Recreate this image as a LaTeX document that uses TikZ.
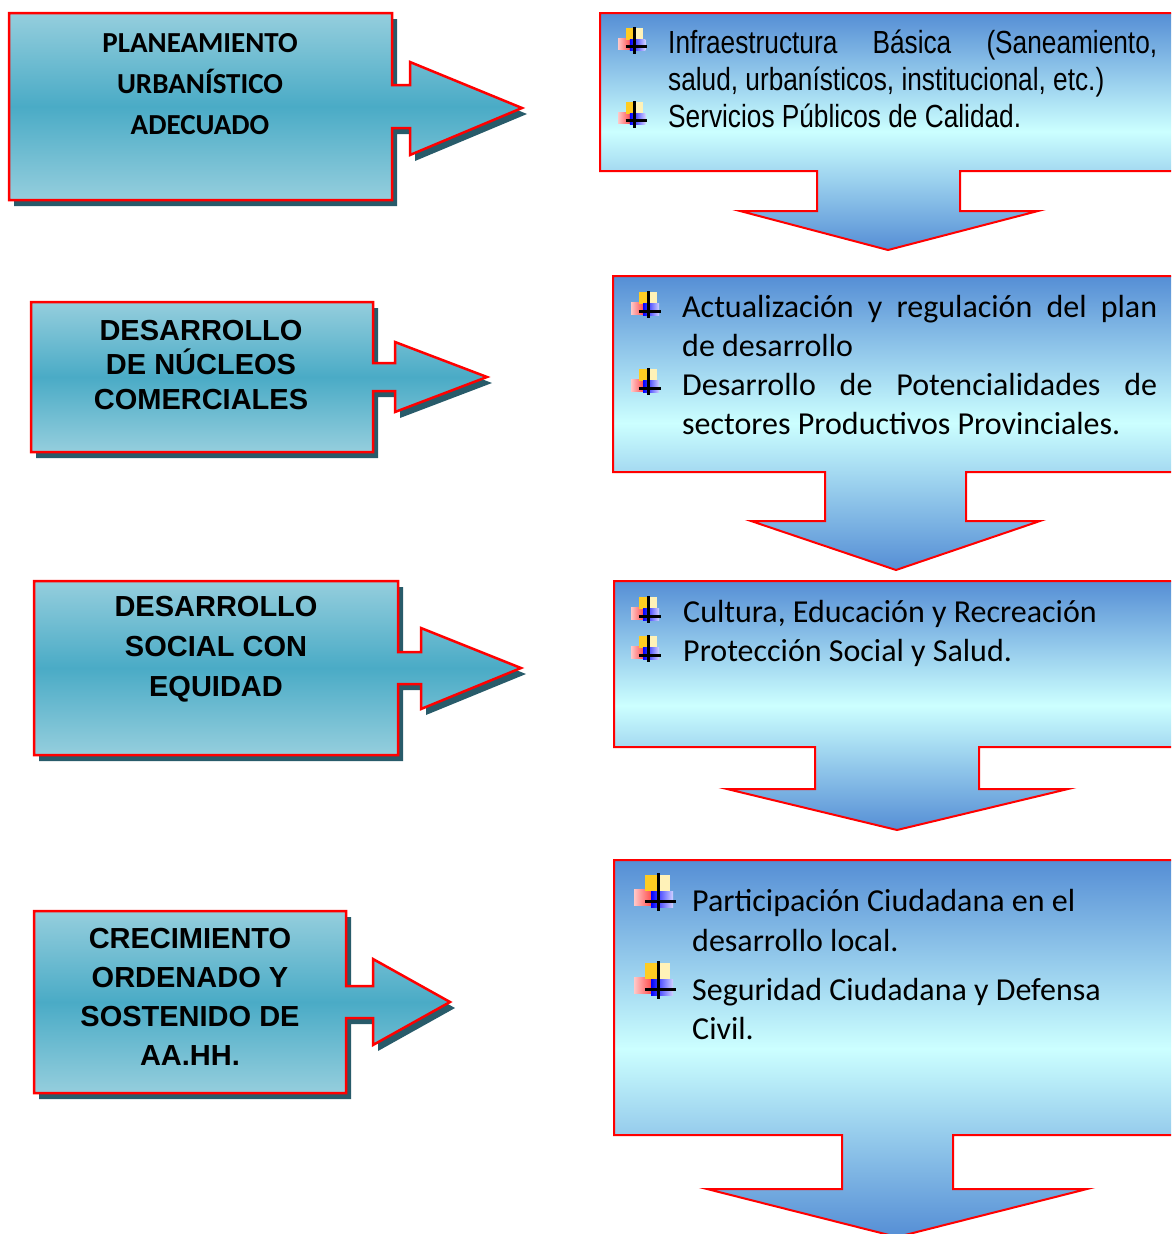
\documentclass[tikz,border=0pt]{standalone}
\usepackage{fontspec}
\setmainfont{Liberation Sans}
\newfontfamily\calfont{Carlito}
\newfontfamily\narrowfont[FakeStretch=0.82]{Liberation Sans}
\usetikzlibrary{shadows}
\definecolor{lt}{HTML}{95CEDD}
\definecolor{md}{HTML}{4AABC6}
\definecolor{shd}{HTML}{285B6A}
\definecolor{rb}{HTML}{558ED5}
\definecolor{rc}{HTML}{CCFFFF}
\definecolor{gold}{HTML}{FFCC22}
\definecolor{paley}{HTML}{FFF2B8}
\definecolor{pinkr}{HTML}{FF4A4A}
\definecolor{pinkl}{HTML}{FFC8C8}
\begin{document}
\begin{tikzpicture}[x=1pt,y=-1pt,
  lshape/.style={draw=red, line width=2.5pt, line join=miter, top color=lt, bottom color=lt, middle color=md,
    drop shadow={shadow xshift=5pt, shadow yshift=-6pt, fill=shd, opacity=1}},
  rshape/.style={draw=red, line width=2pt, line join=miter, top color=rb, bottom color=rb, middle color=rc},
  ltext/.style={align=center, inner sep=0pt, font=\bfseries\fontsize{29}{#1}\selectfont},
  ctext/.style={align=center, inner sep=0pt, font=\calfont\bfseries\fontsize{29}{#1}\selectfont},
  ntxt/.style={anchor=base west, inner sep=0pt, font=\narrowfont\fontsize{32}{37}\selectfont},
  ktxt/.style={anchor=base west, inner sep=0pt, font=\calfont\fontsize{32}{39}\selectfont},
  qbullet/.pic={
    \shade[left color=pinkl, right color=pinkr] (0,16) rectangle (18,32);
    \fill[gold] (11,2) rectangle (24,18);
    \fill[paley] (24,2) rectangle (36,18);
    \shade[left color=blue, right color=blue!18] (17,18) rectangle (39,34);
    \draw[line width=3pt] (24,0) -- (24,38);
    \draw[line width=3pt] (11,28) -- (42,28);
  }
]
\useasboundingbox (0,0) rectangle (1171,1234);
\clip (0,0) rectangle (1171,1234);

% left shapes
\path[lshape] (9,13) -- (392,13) -- (392,85) -- (410,85) -- (410,62) -- (522,108) -- (410,155) -- (410,128) -- (392,128) -- (392,200) -- (9,200) -- cycle;
\path[lshape] (31,302) -- (373,302) -- (373,363) -- (395,363) -- (395,342) -- (487,377) -- (395,412) -- (395,391) -- (373,391) -- (373,452) -- (31,452) -- cycle;
\path[lshape] (34,581) -- (398,581) -- (398,652) -- (421,652) -- (421,628) -- (521,668) -- (421,709) -- (421,684) -- (398,684) -- (398,755) -- (34,755) -- cycle;
\path[lshape] (34,911) -- (346,911) -- (346,986) -- (373,986) -- (373,959) -- (450,1002) -- (373,1045) -- (373,1018) -- (346,1018) -- (346,1093) -- (34,1093) -- cycle;

\node[ctext=41] (b1) at (200,84) {PLANEAMIENTO\\URBANÍSTICO\\ADECUADO};
\node[ltext=34.5] (b2) at (201,365) {DESARROLLO\\DE NÚCLEOS\\COMERCIALES};
\node[ltext=40] (b3) at (216,649) {DESARROLLO\\SOCIAL CON\\EQUIDAD};
\node[ltext=39] (b4) at (190,997) {CRECIMIENTO\\ORDENADO Y\\SOSTENIDO DE\\AA.HH.};

% right shapes
\path[rshape] (600,13) -- (1190,13) -- (1190,171) -- (960,171) -- (960,211) -- (1038,211) -- (888,250) -- (740,211) -- (817,211) -- (817,171) -- (600,171) -- cycle;
\path[rshape] (613,276) -- (1190,276) -- (1190,472) -- (966,472) -- (966,521) -- (1040,521) -- (896,570) -- (751,521) -- (825,521) -- (825,472) -- (613,472) -- cycle;
\path[rshape] (614,581) -- (1190,581) -- (1190,747) -- (979,747) -- (979,789) -- (1068,789) -- (897,830) -- (727,789) -- (815,789) -- (815,747) -- (614,747) -- cycle;
\path[rshape] (614,860) -- (1190,860) -- (1190,1135) -- (953,1135) -- (953,1189) -- (1087,1189) -- (897,1237) -- (707,1189) -- (842,1189) -- (842,1135) -- (614,1135) -- cycle;

% bullets
\pic[scale=0.7] at (618,27) {qbullet};
\pic[scale=0.7] at (618,101) {qbullet};
\pic[scale=0.72] at (631,291) {qbullet};
\pic[scale=0.72] at (631,368) {qbullet};
\pic[scale=0.72] at (631,596) {qbullet};
\pic[scale=0.72] at (631,635) {qbullet};
\pic at (634,873) {qbullet};
\pic at (634,961) {qbullet};

% right texts
\node[ntxt] (r1a) at (668,53) {\makebox[489pt][s]{Infraestructura Básica (Saneamiento,}};
\node[ntxt] (r1b) at (668,90) {salud, urbanísticos, institucional, etc.)};
\node[ntxt] (r1c) at (668,127) {Servicios Públicos de Calidad.};

\node[ktxt] (r2a) at (682,317) {\makebox[475pt][s]{Actualización y regulación del plan}};
\node[ktxt] (r2b) at (682,356) {de desarrollo};
\node[ktxt] (r2c) at (682,395) {\makebox[475pt][s]{Desarrollo de Potencialidades de}};
\node[ktxt] (r2d) at (682,434) {sectores Productivos Provinciales.};

\node[ktxt] (r3a) at (683,622) {Cultura, Educación y Recreación};
\node[ktxt] (r3b) at (683,661) {Protección Social y Salud.};

\node[ktxt] (r4a) at (692,911) {Participación Ciudadana en el};
\node[ktxt] (r4b) at (692,951) {desarrollo local.};
\node[ktxt] (r4c) at (692,1000) {Seguridad Ciudadana y Defensa};
\node[ktxt] (r4d) at (692,1039) {Civil.};
\end{tikzpicture}
\end{document}
